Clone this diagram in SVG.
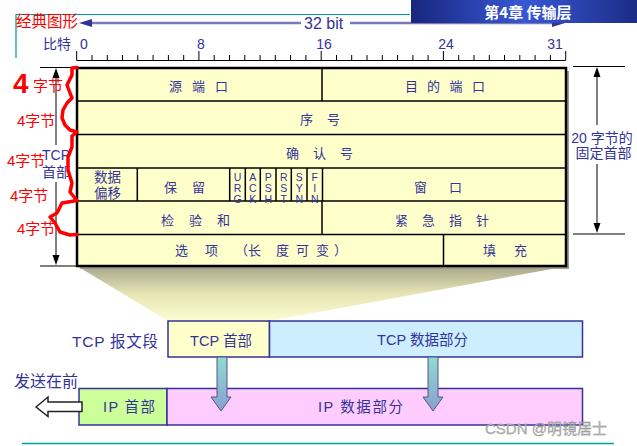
<svg xmlns="http://www.w3.org/2000/svg" width="637" height="446" viewBox="0 0 637 446">
<defs>
<style>
.t{font-family:"Liberation Sans","Noto Sans CJK SC",sans-serif;fill:#333399;}
.r{font-family:"Liberation Sans","Noto Sans CJK SC",sans-serif;fill:#ff0000;}
.f{font-size:13px;}
.fl{font-size:10.5px;writing-mode:vertical-rl;text-orientation:upright;letter-spacing:-1px;}
.ln{stroke:#000;stroke-width:1.5;fill:none;}
.thin{stroke:#000;stroke-width:1;fill:none;}
.box{stroke:#333399;stroke-width:1.5;}
.darr{fill:url(#ga);stroke:#555588;stroke-width:1;}
</style>
<linearGradient id="gb" x1="0" y1="0" x2="1" y2="0">
<stop offset="0" stop-color="#18277e"/>
<stop offset="0.5" stop-color="#3858d4"/>
<stop offset="1" stop-color="#1b2c86"/>
</linearGradient>
<linearGradient id="gt" x1="0" y1="0" x2="0" y2="1">
<stop offset="0" stop-color="#a8a68a"/>
<stop offset="0.5" stop-color="#e6e4b4"/>
<stop offset="1" stop-color="#fdfdd2"/>
</linearGradient>
<linearGradient id="ga" x1="0" y1="0" x2="0" y2="1">
<stop offset="0" stop-color="#8fdccf"/>
<stop offset="1" stop-color="#8a9fd0"/>
</linearGradient>
</defs>

<!-- slide decoration -->
<g id="decor">
<path d="M16 14.5H410M16 14V58" stroke="#009999" stroke-width="1.2" fill="none"/>
<path d="M22 443.5H614" stroke="#00a0a0" stroke-width="1.5" fill="none"/>
</g>

<!-- 32 bit span -->
<g id="bitspan">
<path d="M88 23H301M350 23H560" stroke="#7a7ab4" stroke-width="2.5" fill="none"/>
<polygon points="79,23 92,19 92,27" fill="#333399"/>
<polygon points="565,23 552,19 552,27" fill="#333399"/>
<text class="t" x="304" y="29" font-size="16">32 bit</text>
</g>

<!-- title banner -->
<g id="banner">
<rect x="411" y="0" width="226" height="23" fill="url(#gb)"/>
<text x="528" y="18" font-family="'Noto Sans CJK SC',sans-serif" font-size="15" font-weight="bold" fill="#ffffff" text-anchor="middle">第4章  传输层</text>
</g>

<text class="r" x="16" y="27" font-size="15.5">经典图形</text>

<!-- ruler -->
<g id="ruler">
<text class="t" x="43" y="49" font-size="14">比特</text>
<g class="t" font-size="14" text-anchor="middle">
<text x="84" y="49">0</text>
<text x="201" y="49">8</text>
<text x="324" y="49">16</text>
<text x="446" y="49">24</text>
<text x="555" y="49">31</text>
</g>
<path class="thin" stroke-width="1.3" d="M76.7 60.5H565.7
M76.7 51V60.5M92 55V60.5M107.3 55V60.5M122.5 55V60.5M137.8 55V60.5M153.1 55V60.5M168.4 55V60.5M183.7 55V60.5
M198.9 51V60.5M214.2 55V60.5M229.5 55V60.5M244.8 55V60.5M260.1 55V60.5M275.3 55V60.5M290.6 55V60.5M305.9 55V60.5
M321.2 51V60.5M336.5 55V60.5M351.7 55V60.5M367 55V60.5M382.3 55V60.5M397.6 55V60.5M412.9 55V60.5M428.1 55V60.5
M443.4 51V60.5M458.7 55V60.5M474 55V60.5M489.3 55V60.5M504.5 55V60.5M519.8 55V60.5M535.1 55V60.5M550.4 55V60.5
M565.7 51V60.5"/>
</g>

<!-- expansion shading -->
<polygon id="expand" points="77,266 568,266 270,321 168,321" fill="url(#gt)"/>

<!-- TCP header table -->
<g id="tcp-header">
<rect x="80" y="71" width="489" height="198" fill="#9c9c8c"/>
<rect x="77" y="68" width="489" height="198" fill="#ffffcc"/>
<path class="ln" d="M77 101H566M77 134.5H566M77 168H566M77 201H566M77 234.5H566
M322 68V101M322 201V234.5M137.3 168V201M229.7 168V201M245.3 168V201M260.3 168V201M276 168V201M291.3 168V201M307 168V201M322.5 168V201M443.5 234.5V266"/>
<rect x="77" y="68" width="489" height="198" fill="none" stroke="#000" stroke-width="2.5"/>
</g>

<g id="f-srcport"><text class="t f" x="169 192 215" y="91">源端口</text></g>
<g id="f-dstport"><text class="t f" x="405 427 449.5 472" y="91">目的端口</text></g>
<g id="f-seq"><text class="t f" x="300 327" y="124">序号</text></g>
<g id="f-ack"><text class="t f" x="286 313 340" y="158">确认号</text></g>
<g id="f-offset">
<text class="t" font-size="13.5" x="107.5" y="182" text-anchor="middle">数据</text>
<text class="t" font-size="13.5" x="107.5" y="198" text-anchor="middle">偏移</text>
</g>
<g id="f-reserved"><text class="t f" x="164 192" y="192">保留</text></g>
<g id="f-flags" class="t">
<text class="fl" x="237.5" y="171">URG</text>
<text class="fl" x="252.8" y="171">ACK</text>
<text class="fl" x="268.2" y="171">PSH</text>
<text class="fl" x="283.7" y="171">RST</text>
<text class="fl" x="299.2" y="171">SYN</text>
<text class="fl" x="314.8" y="171">FIN</text>
</g>
<g id="f-window"><text class="t f" x="414 449" y="192">窗口</text></g>
<g id="f-checksum"><text class="t f" x="161 189 217" y="225">检验和</text></g>
<g id="f-urgent"><text class="t f" x="395 422 449 476" y="225">紧急指针</text></g>
<g id="f-options"><text class="t f" x="175 205 235 248 276 296 316 334" y="255">选项（长度可变）</text></g>
<g id="f-padding"><text class="t f" x="483 514" y="255">填充</text></g>

<!-- dimension: TCP header -->
<g id="dim-left">
<path class="thin" d="M40 67.5H77M40 266H77M56 76V145M56 182V257"/>
<polygon points="56,68 52.5,78 59.5,78" fill="#000"/>
<polygon points="56,265 52.5,255 59.5,255" fill="#000"/>
<text class="t" font-size="14" x="56" y="160" text-anchor="middle">TCP</text>
<text class="t" font-size="14" x="56" y="177" text-anchor="middle">首部</text>
</g>

<!-- dimension: 20 byte fixed header -->
<g id="dim-right">
<path class="thin" d="M573 66.5H625M573 234H625M597 76V125M597 164V224"/>
<polygon points="597,67 593.5,77 600.5,77" fill="#000"/>
<polygon points="597,233 593.5,223 600.5,223" fill="#000"/>
<text class="t" font-size="14" x="602" y="143" text-anchor="middle">20 字节的</text>
<text class="t" font-size="14" x="603.5" y="158" text-anchor="middle">固定首部</text>
</g>

<!-- red annotations -->
<g id="annot">
<path d="M77 67.5L72 68L72 75L67 85L70 93L72 98L67 103L63 110L62 118L65 125L70 130L77 132L72 136L72 147L68 157L68 170L72 183L70 192L77 200.5L62 203L57 213L50 217L55 223L60 232L70 235L77 234.5" stroke="#ff0000" stroke-width="3.5" fill="none" stroke-linejoin="round" stroke-linecap="round"/>
<text class="r" x="13" y="93" font-size="28" font-weight="bold">4</text>
<text class="r" x="33" y="91" font-size="15">字节</text>
<text class="r" x="17" y="126" font-size="15">4字节</text>
<text class="r" x="7" y="166" font-size="15">4字节</text>
<text class="r" x="10" y="201" font-size="15">4字节</text>
<text class="r" x="17" y="234" font-size="15">4字节</text>
</g>

<!-- TCP segment -->
<text class="t" x="72" y="347" font-size="15.5" textLength="86" lengthAdjust="spacing">TCP 报文段</text>
<g id="seg-tcp-header">
<rect class="box" x="168" y="321" width="101.5" height="36" fill="#ffffcc"/>
<text class="t" x="221" y="346" font-size="14.5" text-anchor="middle">TCP 首部</text>
</g>
<g id="seg-tcp-data">
<rect class="box" x="269.5" y="321" width="313" height="36" fill="#cceeff"/>
<text class="t" x="422.5" y="345" font-size="14.5" text-anchor="middle">TCP 数据部分</text>
</g>

<!-- IP datagram -->
<text class="t" x="14" y="387" font-size="16">发送在前</text>
<g id="ip-header">
<rect class="box" x="79" y="388.5" width="88" height="36.5" fill="#ccff99"/>
<text class="t" x="103" y="412" font-size="14.5" textLength="52" lengthAdjust="spacing">IP 首部</text>
</g>
<g id="ip-data">
<rect class="box" x="167" y="388.5" width="415.5" height="36.5" fill="#ffccff"/>
<text class="t" x="318" y="412" font-size="14.5" textLength="85" lengthAdjust="spacing">IP 数据部分</text>
</g>

<!-- connectors -->
<g id="connectors">
<polygon class="darr" points="217,357 227,357 227,397 231,397 221,411 211,397 217,397"/>
<polygon class="darr" points="428,357 438,357 438,397 443,397 433,411 423,397 428,397"/>
<polygon points="36,407 48,397 48,402 82,402 82,411.5 48,411.5 48,416.5" fill="#ffffff" stroke="#222" stroke-width="1.5" stroke-linejoin="miter"/>
</g>

<text x="485" y="434" font-family="'Liberation Sans','Noto Sans CJK SC',sans-serif" font-size="15" fill="#b8b8b8" stroke="#8a8a8a" stroke-width="0.3">CSDN @明镜居士</text>
</svg>
